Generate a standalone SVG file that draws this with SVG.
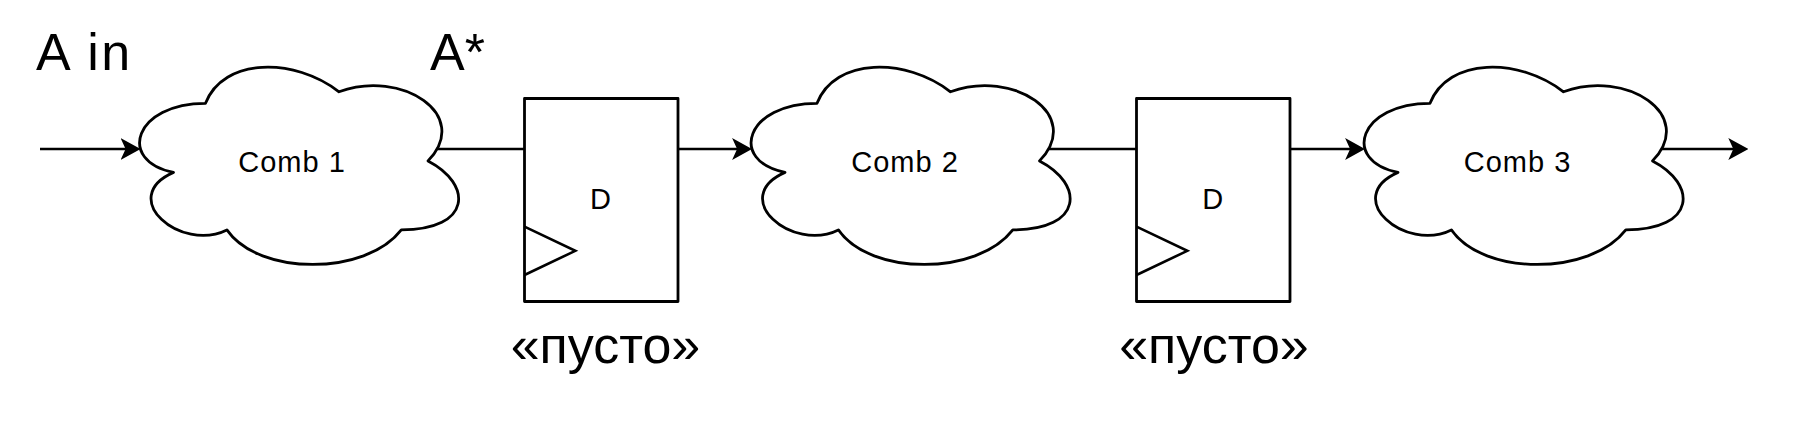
<svg xmlns="http://www.w3.org/2000/svg" width="1799" height="421" viewBox="0 0 1799 421">
  <style>
    .outline { fill: #ffffff; stroke: #000000; stroke-width: 2.8; stroke-linejoin: round; }
    .wire { fill: none; stroke: #000000; stroke-width: 2.6; }
    .big { font-family: "Liberation Sans", Arial, sans-serif; font-size: 52px; fill: #000000; }
    .small { font-family: "Liberation Sans", Arial, sans-serif; font-size: 29px; fill: #000000; text-anchor: middle; }
    .mid { text-anchor: middle; }
  </style>
  <defs>
    <path id="cloud" d="M 89 57.6 C 17.8 57.6 0 115.2 57 126.7 C 0 152 64.1 207.3 110.4 184.2 C 142.4 230.3 249.2 230.3 284.8 184.2 C 356 184.2 356 138.2 311.5 115.2 C 356 69.1 284.8 23 222.5 46.1 C 178 11.5 106.8 11.5 89 57.6 Z"/>
    <marker id="arrow" viewBox="0 0 20 22" refX="14" refY="11" markerWidth="20" markerHeight="22" markerUnits="userSpaceOnUse" orient="auto">
      <path d="M0 0 L20 11 L0 22 L5 11 Z" fill="#000000"/>
    </marker>
  </defs>
  <rect width="1799" height="421" fill="#ffffff"/>

  <g id="label-a-in"><text class="big" x="36" y="70" letter-spacing="2.5">A in</text></g>
  <g id="label-a-star"><text class="big" x="430" y="70">A*</text></g>

  <g id="comb1">
    <use href="#cloud" class="outline" transform="translate(116.5 45.7)"/>
    <text class="small" x="292" y="171.7" letter-spacing="1">Comb 1</text>
  </g>

  <g id="ff1">
    <rect class="outline" x="524.5" y="98.5" width="153.5" height="203"/>
    <polyline class="wire" points="524.5,226.7 575.3,250.8 524.5,275"/>
    <text class="small" x="600.5" y="209.3">D</text>
  </g>
  <g id="label-empty1"><text class="big mid" x="605.5" y="363.3">«пусто»</text></g>

  <g id="comb2">
    <use href="#cloud" class="outline" transform="translate(728 45.7)"/>
    <text class="small" x="905" y="171.7" letter-spacing="1">Comb 2</text>
  </g>

  <g id="ff2">
    <rect class="outline" x="1136.5" y="98.5" width="153.5" height="203"/>
    <polyline class="wire" points="1136.5,226.7 1187.3,250.8 1136.5,275"/>
    <text class="small" x="1212.8" y="209.3">D</text>
  </g>
  <g id="label-empty2"><text class="big mid" x="1214" y="363.3">«пусто»</text></g>

  <g id="comb3">
    <use href="#cloud" class="outline" transform="translate(1341 45.7)"/>
    <text class="small" x="1517.5" y="171.7" letter-spacing="1">Comb 3</text>
  </g>

  <g id="connectors">
    <path class="wire" d="M40 149 L134.6 149" marker-end="url(#arrow)"/>
    <path class="wire" d="M436.5 149 L524.5 149"/>
    <path class="wire" d="M678 149 L746.1 149" marker-end="url(#arrow)"/>
    <path class="wire" d="M1048 149 L1136.5 149"/>
    <path class="wire" d="M1290 149 L1359.1 149" marker-end="url(#arrow)"/>
    <path class="wire" d="M1661 149 L1742.3 149" marker-end="url(#arrow)"/>
  </g>
</svg>
